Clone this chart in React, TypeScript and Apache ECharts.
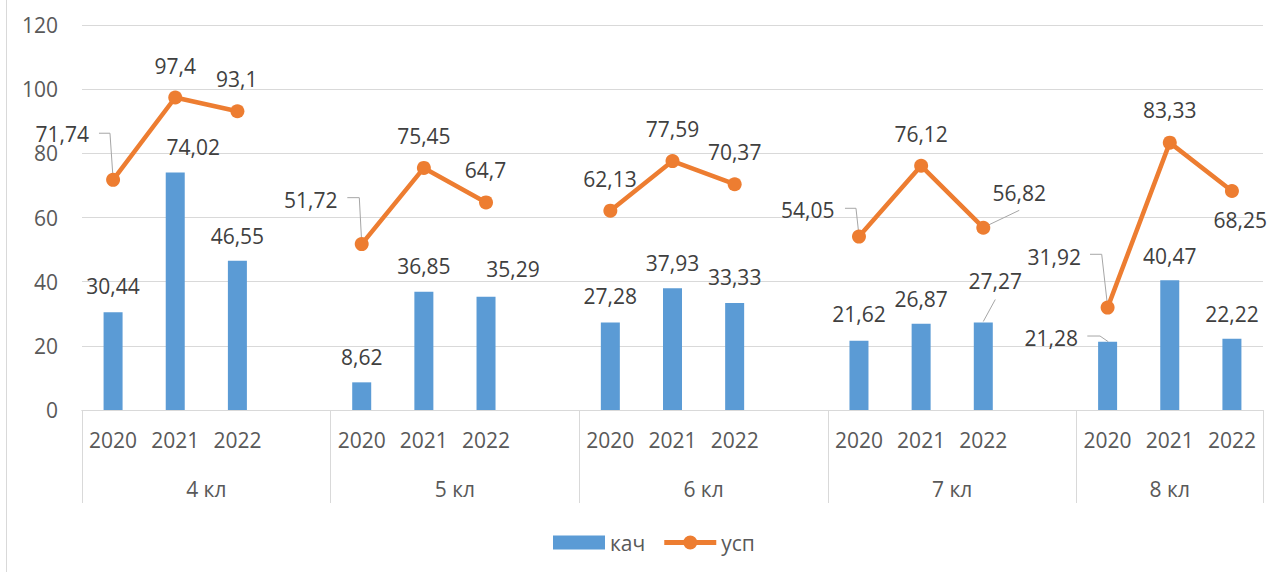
import React, { useEffect, useRef } from "react";
import * as echarts from "echarts";

// ---- data ----
const groups = ["4 кл", "5 кл", "6 кл", "7 кл", "8 кл"];
const years = ["2020", "2021", "2022"];
const kach = [
  [30.44, 74.02, 46.55],
  [8.62, 36.85, 35.29],
  [27.28, 37.93, 33.33],
  [21.62, 26.87, 27.27],
  [21.28, 40.47, 22.22],
];
const usp = [
  [71.74, 97.4, 93.1],
  [51.72, 75.45, 64.7],
  [62.13, 77.59, 70.37],
  [54.05, 76.12, 56.82],
  [31.92, 83.33, 68.25],
];
const yMin = 0;
const yMax = 120;
const yStep = 20;

// ---- label placement (styling, offsets from the mark anchor in px) ----
const kachLabelOff: [number, number][][] = [
  [[0, -26], [18, -25.5], [0, -25]],
  [[0, -25.3], [0, -25.5], [27, -28]],
  [[0, -26.5], [0, -25.3], [0, -25.6]],
  [[0, -26.6], [0, -24.8], [12, -41.7]],
  [[-56.4, -3.9], [0, -24.4], [0, -24.9]],
];
const uspLabelOff: [number, number][][] = [
  [[-50.9, -45.7], [0, -32], [-0.7, -32.5]],
  [[-50.9, -43.8], [0, -31.7], [-0.5, -32.4]],
  [[-0.4, -31.5], [0, -31.9], [0, -32.4]],
  [[-51.2, -26.6], [0, -31.6], [35.9, -34.4]],
  [[-53.4, -50.8], [0, -32.7], [8.4, 28.7]],
];
// leader lines: [series, group, year, points relative to anchor]
const leaders: { s: "kach" | "usp"; g: number; y: number; pts: [number, number][] }[] = [
  { s: "usp", g: 0, y: 0, pts: [[-14.1, -46.6], [-3.1, -46.6], [0, -1]] },
  { s: "usp", g: 1, y: 0, pts: [[-14.4, -46.4], [-2.4, -46.4], [0, -1]] },
  { s: "usp", g: 3, y: 0, pts: [[-14, -28.3], [-3, -28.3], [0, -1]] },
  { s: "usp", g: 3, y: 2, pts: [[1, -0.7], [36, -17.4]] },
  { s: "usp", g: 4, y: 0, pts: [[-17.6, -53.3], [-5.9, -53.3], [0, -1]] },
  { s: "kach", g: 3, y: 2, pts: [[0, -1], [12, -23]] },
  { s: "kach", g: 4, y: 0, pts: [[-20.3, -5.7], [-7.6, -5.7], [0.7, 0]] },
];

const FONT = "'Open Sans', 'Noto Sans', sans-serif";
const AXIS_COLOR = "#595959";
const LABEL_COLOR = "#404040";
const GRID_COLOR = "#D9D9D9";
const BAR_COLOR = "#5B9BD5";
const LINE_COLOR = "#ED7D31";
// legend icon for the line series: thick line with a dot in the middle
const LINE_LEGEND_ICON =
  "path://M0,4.5 H52 V9.5 H0 Z M19,7 A7,7 0 1,1 33,7 A7,7 0 1,1 19,7 Z";

// ---- build flattened category structure ----
const categories: string[] = [];
const kachFlat: (number | null)[] = [];
const uspFlat: (number | null)[] = [];
const kachOffFlat: ([number, number] | null)[] = [];
const uspOffFlat: ([number, number] | null)[] = [];
const slotIndex: number[][] = [];
const groupBounds: number[] = [0];
const groupCenters: number[] = [];
groups.forEach((g, gi) => {
  const start = categories.length;
  slotIndex.push([]);
  years.forEach((yr, yi) => {
    slotIndex[gi].push(categories.length);
    categories.push(yr);
    kachFlat.push(kach[gi][yi]);
    uspFlat.push(usp[gi][yi]);
    kachOffFlat.push(kachLabelOff[gi][yi]);
    uspOffFlat.push(uspLabelOff[gi][yi]);
  });
  if (gi < groups.length - 1) {
    categories.push("");
    kachFlat.push(null);
    uspFlat.push(null);
    kachOffFlat.push(null);
    uspOffFlat.push(null);
  }
  const end = categories.length;
  groupBounds.push(end);
  groupCenters.push((start + end) / 2);
});
const nSlots = categories.length;

const leaderData = leaders.map((l, i) => {
  const idx = slotIndex[l.g][l.y];
  const v = l.s === "kach" ? kach[l.g][l.y] : usp[l.g][l.y];
  return [idx, v, i];
});

export default function App() {
  const ref = useRef<HTMLDivElement>(null);
  useEffect(() => {
    if (!ref.current) return;
    const chart = echarts.init(ref.current, undefined, { renderer: "svg" });
    const labelFor = (offs: ([number, number] | null)[], mode: "bar" | "pt") => (p: any) => {
      const off = offs[p.dataIndex];
      if (!off) return {};
      const r = p.rect;
      const cx = r.x + r.width / 2;
      const ay = mode === "bar" ? Math.min(r.y, r.y + r.height) : r.y + r.height / 2;
      return { x: cx + off[0], y: ay + off[1], align: "center", verticalAlign: "middle" };
    };
    chart.setOption({
      animation: false,
      textStyle: { fontFamily: FONT },
      grid: { left: 82, right: 9, top: 25, bottom: 162, containLabel: false },
      legend: {
        data: [
          { name: "кач", icon: "rect" },
          { name: "усп", icon: LINE_LEGEND_ICON, itemStyle: { color: LINE_COLOR } },
        ],
        left: 553,
        top: 532,
        padding: 0,
        itemWidth: 52,
        itemHeight: 14,
        itemGap: 19,
        textStyle: { fontSize: 21, color: AXIS_COLOR, fontFamily: FONT },
      },
      xAxis: [
        {
          type: "category",
          data: categories,
          boundaryGap: true,
          axisLine: { show: true, lineStyle: { color: GRID_COLOR, width: 1 } },
          axisTick: { show: false },
          axisLabel: {
            interval: 0,
            fontSize: 21,
            lineHeight: 21,
            color: AXIS_COLOR,
            fontFamily: FONT,
            margin: 19.5,
          },
        },
        {
          type: "value",
          min: 0,
          max: nSlots,
          position: "bottom",
          axisLine: { show: true, lineStyle: { color: GRID_COLOR, width: 1 } },
          splitLine: { show: false },
          axisTick: {
            show: true,
            customValues: groupBounds,
            length: 93,
            lineStyle: { color: GRID_COLOR, width: 1 },
          },
          axisLabel: {
            customValues: groupCenters,
            formatter: (v: number) => {
              const i = groupCenters.findIndex((c) => Math.abs(c - v) < 1e-6);
              return i >= 0 ? groups[i] : "";
            },
            fontSize: 21,
            lineHeight: 21,
            color: AXIS_COLOR,
            fontFamily: FONT,
            margin: 68.5,
          },
        },
      ],
      yAxis: {
        type: "value",
        min: yMin,
        max: yMax,
        interval: yStep,
        axisLine: { show: false },
        axisTick: { show: false },
        splitLine: { lineStyle: { color: GRID_COLOR, width: 1 } },
        axisLabel: { fontSize: 21, color: AXIS_COLOR, fontFamily: FONT, margin: 24 },
      },
      series: [
        {
          name: "кач",
          type: "bar",
          xAxisIndex: 0,
          data: kachFlat,
          barWidth: 19,
          itemStyle: { color: BAR_COLOR },
          label: {
            show: true,
            position: "top",
            fontSize: 21,
            color: LABEL_COLOR,
            fontFamily: FONT,
            formatter: (p: any) => String(p.value).replace(".", ","),
          },
          labelLayout: labelFor(kachOffFlat, "bar"),
          z: 2,
        },
        {
          name: "усп",
          type: "line",
          xAxisIndex: 0,
          data: uspFlat,
          connectNulls: false,
          symbol: "circle",
          symbolSize: 14,
          showSymbol: true,
          itemStyle: { color: LINE_COLOR },
          lineStyle: { color: LINE_COLOR, width: 4.5 },
          label: {
            show: true,
            position: "top",
            fontSize: 21,
            color: LABEL_COLOR,
            fontFamily: FONT,
            formatter: (p: any) => String(p.value).replace(".", ","),
          },
          labelLayout: labelFor(uspOffFlat, "pt"),
          z: 4,
        },
        {
          name: "leaders",
          type: "custom",
          xAxisIndex: 0,
          silent: true,
          z: 3,
          data: leaderData,
          renderItem: (params: any, api: any) => {
            const c = api.coord([api.value(0), api.value(1)]);
            const l = leaders[api.value(2)];
            return {
              type: "polyline",
              shape: { points: l.pts.map(([dx, dy]) => [c[0] + dx, c[1] + dy]) },
              style: { stroke: "#A6A6A6", lineWidth: 1, fill: null },
            };
          },
        },
      ],
      graphic: [
        {
          type: "line",
          shape: { x1: 6.5, y1: 0, x2: 6.5, y2: 572 },
          style: { stroke: GRID_COLOR, lineWidth: 1 },
          silent: true,
        },
      ],
    });
    return () => chart.dispose();
  }, []);
  return (
    <div
      ref={ref}
      style={{ position: "absolute", left: 0, top: 0, width: 1272, height: 572, background: "#fff" }}
    />
  );
}
